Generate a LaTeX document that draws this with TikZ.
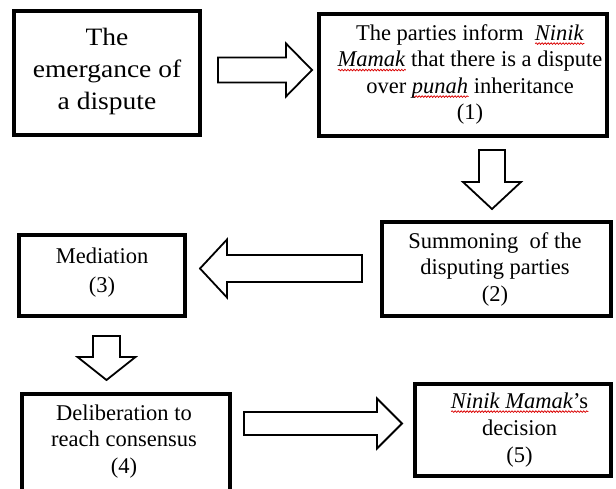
\documentclass[tikz,border=0pt]{standalone}
\usepackage{fontspec}
\setmainfont{Liberation Serif}
\newfontfamily\bzfont[FakeStretch=1.1]{Liberation Serif}
\usetikzlibrary{calc,decorations.pathmorphing}
\newlength\sqw
\newcommand{\sq}[1]{\settowidth{\sqw}{#1}\rlap{\tikz[baseline=0pt]{\draw[red!85!black, line width=0.75pt, decorate, decoration={snake, amplitude=0.8pt, segment length=3pt}] (0pt,-3.4pt) -- (\sqw,-3.4pt);}}#1}
% horizontal block arrow: tail, tip, half shaft, half head, signed head length
\newcommand{\harrow}[5]{\draw[blockarrow] ($(#1)+(0,#3)$) -- ($(#2)+(#5,#3)$) -- ($(#2)+(#5,#4)$) -- (#2) -- ($(#2)+(#5,-#4)$) -- ($(#2)+(#5,-#3)$) -- ($(#1)+(0,-#3)$) -- cycle;}
% vertical block arrow
\newcommand{\varrow}[5]{\draw[blockarrow] ($(#1)+(#3,0)$) -- ($(#2)+(#3,#5)$) -- ($(#2)+(#4,#5)$) -- (#2) -- ($(#2)+(-#4,#5)$) -- ($(#2)+(-#3,#5)$) -- ($(#1)+(-#3,0)$) -- cycle;}
\tikzset{
  box/.style={draw=black, line width=4bp, inner sep=0pt},
  blockarrow/.style={draw=black, line width=1.8bp, fill=white, line join=miter},
  txt/.style={inner sep=0pt, align=center, anchor=north, font=\fontsize{22.5bp}{26.5bp}\selectfont},
}
\begin{document}
\begin{tikzpicture}[x=1bp, y=-1bp]
\useasboundingbox (0,0) rectangle (616,489);
% boxes
\node[box, minimum width=186bp, minimum height=124bp] (b0) at (107,73) {};
\node[box, minimum width=288bp, minimum height=122bp] (b1) at (463,75) {};
\node[box, minimum width=229bp, minimum height=94bp] (b2) at (496.5,269) {};
\node[box, minimum width=166bp, minimum height=81bp] (b3) at (102,275.5) {};
\node[box, minimum width=208bp, minimum height=116bp] (b4) at (126,452) {};
\node[box, minimum width=196bp, minimum height=92bp] (b5) at (513,430) {};
% texts
\node[txt, font=\bzfont\fontsize{25bp}{32bp}\selectfont] (t0) at (107,22.6) {\strut The\\emergance of\\a dispute};
\node[txt] (t1) at (470,21.45) {\strut The parties inform~ \sq{\textit{Ninik}}\\\sq{\textit{Mamak}} that there is a dispute\\over \sq{\textit{punah}} inheritance\\(1)};
\node[txt] (t2) at (495,229.45) {\strut Summoning~ of the\\disputing parties\\(2)};
\node[txt, font=\fontsize{22.5bp}{29bp}\selectfont] (t3) at (102,242.7) {\strut Mediation\\(3)};
\node[txt] (t4) at (124,401.45) {\strut Deliberation to\\reach consensus\\(4)};
\node[txt, font=\fontsize{22.5bp}{27bp}\selectfont] (t5) at (519.5,389.1) {\strut\sq{\textit{Ninik Mamak}’s}\\decision\\(5)};
% arrow ends
\coordinate (a1s) at (218,70);   \coordinate (a1t) at (312,70);
\coordinate (a2s) at (492,150);  \coordinate (a2t) at (492,209);
\coordinate (a3s) at (362,268.5);\coordinate (a3t) at (200,268.5);
\coordinate (a4s) at (106.5,336);\coordinate (a4t) at (106.5,380);
\coordinate (a5s) at (244,423.5);\coordinate (a5t) at (402,423.5);
\harrow{a1s}{a1t}{12.5}{26.5}{-26}
\varrow{a2s}{a2t}{13}{29}{-27}
\harrow{a3s}{a3t}{13.5}{29}{27}
\varrow{a4s}{a4t}{13.5}{29}{-23}
\harrow{a5s}{a5t}{11.5}{25}{-25}
\end{tikzpicture}
\end{document}
